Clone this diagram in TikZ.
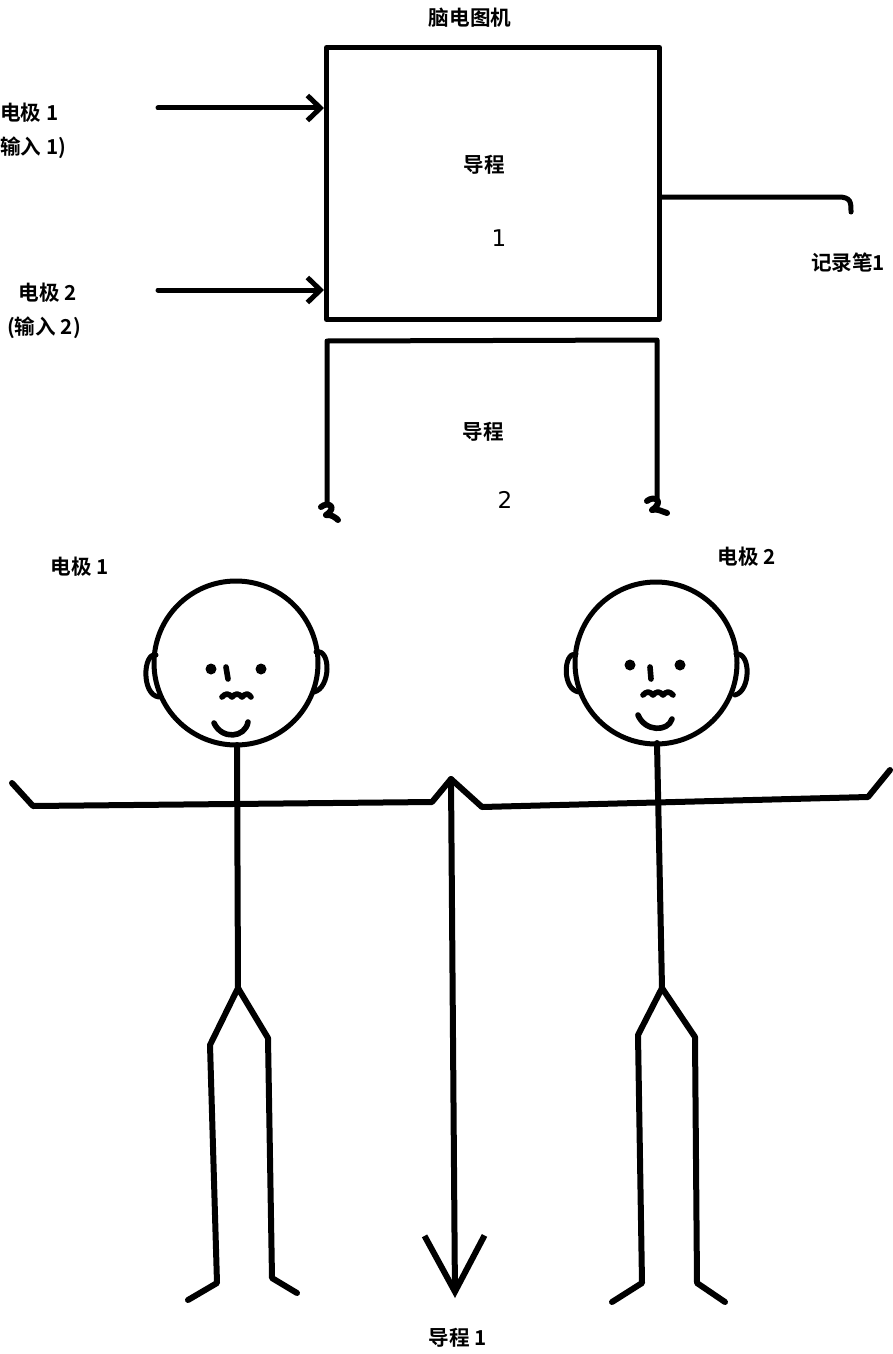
\documentclass[tikz,border=0pt]{standalone}
\usepackage{fontspec}
\newfontfamily\cjk{Noto Sans CJK SC Bold}
\newfontfamily\digitfont{DejaVu Sans}
\usetikzlibrary{arrows.meta}
\begin{document}
\begin{tikzpicture}[x=0.5pt,y=-0.5pt,line cap=round,line join=round,
  lbl/.style={font=\cjk\fontsize{10.3}{12}\selectfont,inner sep=0pt},
  num/.style={font=\digitfont\fontsize{11.5}{13}\selectfont,inner sep=0pt},
  wire/.style={line width=2.5pt},
  limb/.style={line width=3pt},
  headline/.style={line width=2.5pt},
  face/.style={line width=2.8pt},
  barb/.style={-{Straight Barb[length=6.5pt,width=12.5pt,line width=2.5pt]}}]
\useasboundingbox (0,0) rectangle (893,1354);

% ---- recorder unit, channel 1 ----
\node (eeg) [draw,wire,line join=round,minimum width=166.5pt,minimum height=136pt,
  inner sep=0pt,anchor=north west] at (324,45) {};
\node (title) [lbl] at (470,18) {脑电图机};
\node (lead1a) [lbl] at (484,165) {导程};
\node (lead1b) [num] at (499,238) {1};

\coordinate (in1) at (158,108);
\coordinate (in2) at (158,290);
\draw[wire,barb] (in1) -- (in1 -| eeg.west);
\draw[wire,barb] (in2) -- (in2 -| eeg.west);
\node (el1) [lbl,anchor=west] at (0,113) {电极 1};
\node (inp1) [lbl,anchor=west] at (0,148) {输入 1)};
\node (el2) [lbl] at (48,293) {电极 2};
\node (inp2) [lbl] at (44,328) {(输入 2)};

% pen output
\coordinate (penA) at (838,197);
\coordinate (penB) at (851,212);
\draw[wire] (eeg.east |- penA) -- (penA) .. controls (851,197) and (851,202) .. (penB);
\node (pen) [lbl] at (848,263) {记录笔1};

% ---- channel 2 ----
\draw[wire] (327,503) -- (327,341) -- (657,340) -- (657,498);
\draw[line width=3pt] (321,507) .. controls (328,501) and (338,507) .. (326,515)
  .. controls (331,514) and (336,518) .. (338,520);
\draw[line width=3pt] (647,501) .. controls (654,495) and (665,501) .. (652,510)
  .. controls (657,508) and (663,512) .. (667,513);
\node (lead2a) [lbl] at (483,432) {导程};
\node (lead2b) [num] at (505,500) {2};

% ---- electrode labels ----
\node (p1) [lbl] at (80,567) {电极 1};
\node (p2) [lbl] at (747,557) {电极 2};

% ---- left figure ----
\draw[headline] (236,663) circle (82);
\draw[headline] (156,655) .. controls (143,652) and (141,695) .. (159,697);
\draw[headline] (316,652) .. controls (331,648) and (331,688) .. (314,692);
\fill (211,669) circle (5.5);
\fill (261,669) circle (5.5);
\draw[face] (226,667) -- (228,679);
\draw[face] (222,697) sin (227,694) cos (232,697) sin (237,694)
  cos (242,697) sin (247,694) cos (251,697);
\draw[face] (214,723) .. controls (222,740) and (245,738) .. (248,722);
\draw[limb] (237,745) -- (238,988);
\draw[limb] (188,1300) -- (217,1283) -- (210,1045) -- (238,988) -- (268,1038)
  -- (272,1278) -- (297,1293);

% ---- right figure ----
\draw[headline] (656,663) circle (81);
\draw[headline] (576,654) .. controls (563,652) and (562,690) .. (579,692);
\draw[headline] (736,654) .. controls (751,652) and (751,691) .. (735,695);
\fill (630,665) circle (5.5);
\fill (680,665) circle (5.5);
\draw[face] (650,667) -- (651,679);
\draw[face] (643,695) sin (648,692) cos (653,695) sin (658,692)
  cos (663,695) sin (668,692) cos (673,695);
\draw[face] (638,715) .. controls (645,732) and (668,732) .. (672,719);
\draw[limb] (657,743) -- (662,988);
\draw[limb] (612,1302) -- (642,1283) -- (638,1035) -- (662,988) -- (695,1037)
  -- (697,1283) -- (725,1302);

% ---- joined arms and lead 1 ----
\coordinate (peak) at (451,779);
\coordinate (tip) at (455,1298);
\draw[limb] (12,783) -- (33,806) -- (432,802) -- (peak) -- (482,807)
  -- (868,797) -- (890,770);
\draw[limb,-{Straight Barb[length=28pt,width=30pt,line width=3pt]}] (peak) -- (tip);
\node (lead1) [lbl] at (458,1338) {导程 1};
\end{tikzpicture}
\end{document}
